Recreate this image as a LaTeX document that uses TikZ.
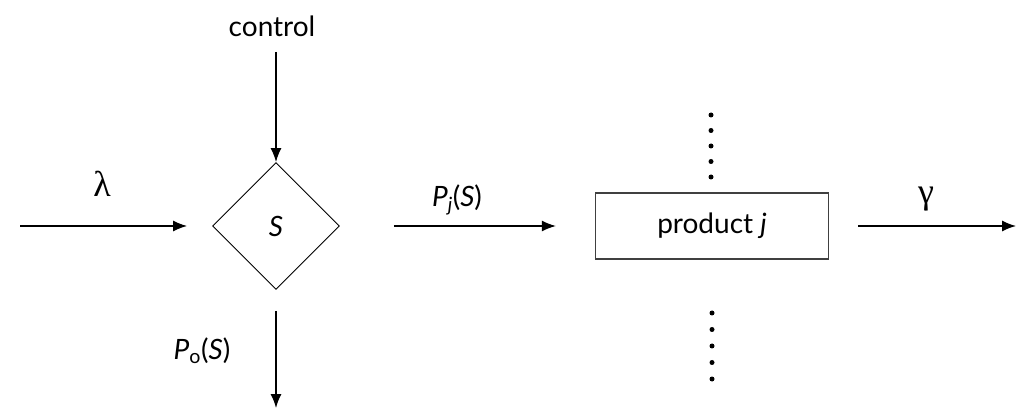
\documentclass[tikz,border=0pt]{standalone}
\usepackage{fontspec}
\setmainfont{Lato}
\newfontfamily\greekfont{Liberation Serif}
\usetikzlibrary{shapes.geometric, arrows.meta}

\begin{document}
\begin{tikzpicture}[
          x=1pt,
          y=-1pt,
          font=\fontsize{28}{32}\selectfont,
          ar/.style={line width=1.3pt, -{Latex[length=14pt, width=11pt]}},
          sel/.style={draw, diamond, aspect=1, line width=0.9pt, minimum width=127pt, minimum height=127pt, inner sep=0pt},
          prod/.style={draw, black!75, text=black, line width=1.3pt, minimum width=233pt, minimum height=66pt, inner sep=0pt},
          gr/.style={font=\fontsize{36}{40}\selectfont\greekfont},
          dt/.style={fill=black, circle, inner sep=0pt, minimum size=5pt},
        ]
      \useasboundingbox (0, 0) rectangle (1017, 411);
      \node[sel] (s) at (276, 226) {\textit{S}};
      \node[prod] (p) at (712, 226) {product \textit{j}};
      \node (ctrl) at (272, 26) {control};
      \coordinate (lin) at (20, 226);
      \coordinate (gout) at (1016, 226);
      \coordinate (oout) at (276, 408);
      % arrows
      \draw[ar] (ctrl.south -| s.north) ++(0, 12) coordinate (ctop) -- (s.north);
      \draw[ar, shorten >=25pt] (lin) -- (s.west);
      \draw[ar, shorten <=54pt, shorten >=39pt] (s.east) -- (p.west);
      \draw[ar, shorten <=29pt] (p.east) -- (gout);
      \draw[ar, shorten <=21pt] (s.south) -- (oout);
      % labels
      \node[gr] (lam) at (102, 184) {λ};
      \node (pj) at (457, 200) {\textit{P}\textsubscript{\textit{j}}(\textit{S})};
      \node[gr] (gam) at (926, 199) {γ};
      \node (po) at (202, 351) {\textit{P}\textsubscript{o}(\textit{S})};
      % dots
      \foreach \k in {0,...,4} {
        \node[dt] (up\k) at (711, 115 + 15.5*\k) {};
        \node[dt] (dn\k) at (712, 313 + 16.5*\k) {};
      }
    \end{tikzpicture}
\end{document}
